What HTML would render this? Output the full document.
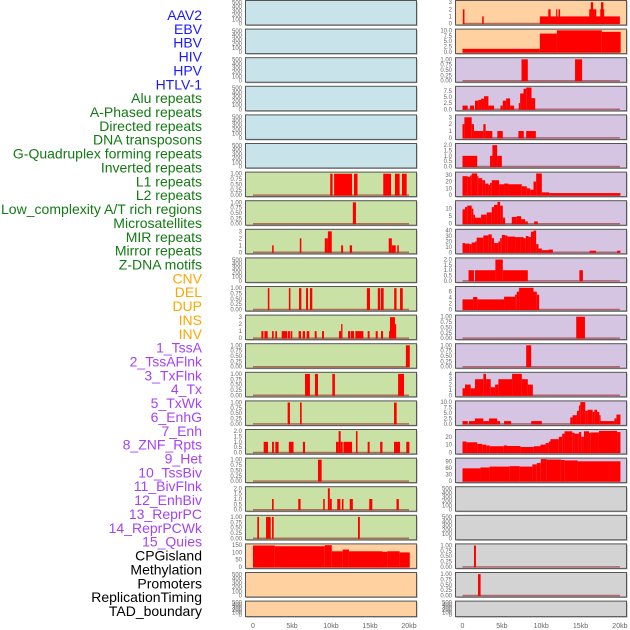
<!DOCTYPE html>
<html><head><meta charset="utf-8"><style>
html,body{margin:0;padding:0;background:#fff;}
svg{display:block;font-family:"Liberation Sans",sans-serif;}
</style></head><body>
<svg id="fig" width="630" height="630" viewBox="0 0 630 630" xmlns="http://www.w3.org/2000/svg">
<g id="labels"></g>
<g id="panels"></g>
<g id="xaxes"></g>
</svg>
<script>
// ---- track labels ----
const labelNames = ["AAV2","EBV","HBV","HIV","HPV","HTLV-1","Alu repeats","A-Phased repeats","Directed repeats","DNA transposons","G-Quadruplex forming repeats","Inverted repeats","L1 repeats","L2 repeats","Low_complexity A/T rich regions","Microsatellites","MIR repeats","Mirror repeats","Z-DNA motifs","CNV","DEL","DUP","INS","INV","1_TssA","2_TssAFlnk","3_TxFlnk","4_Tx","5_TxWk","6_EnhG","7_Enh","8_ZNF_Rpts","9_Het","10_TssBiv","11_BivFlnk","12_EnhBiv","13_ReprPC","14_ReprPCWk","15_Quies","CPGisland","Methylation","Promoters","ReplicationTiming","TAD_boundary"];
const labelGroups = ["v","v","v","v","v","v","r","r","r","r","r","r","r","r","r","r","r","r","r","s","s","s","s","s","c","c","c","c","c","c","c","c","c","c","c","c","c","c","c","o","o","o","o","o"];
const groupColors = {v:"#1a1aff", r:"#137a13", s:"#ffa500", c:"#a443f5", o:"#000000"};

// ---- x axis ----
const xTickKb = [0,5,10,15,20];
const xTickLabels = ["0","5kb","10kb","15kb","20kb"];

// ---- y tick label sets ----
const ticksEmpty = ["0","100","200","300","400","500"];
const ticksFrac = ["0.00","0.25","0.50","0.75","1.00"];
const ticks3 = ["0","1","2","3"];
const ticks2 = ["0.0","0.5","1.0","1.5","2.0"];
const ticks10 = ["0.0","2.5","5.0","7.5","10.0"];
const ticks75 = ["0.0","2.5","5.0","7.5"];
const ticks30 = ["0","10","20","30"];
const ticks10b = ["0","5","10"];
const ticks40 = ["0","10","20","30","40"];
const ticks6 = ["0","2","4","6"];
const ticks4 = ["0","1","2","3","4"];
const ticks20 = ["0","10","20"];
const ticks90 = ["0","30","60","90"];
const ticks150 = ["0","50","100","150"];

// ---- data: [startKb, endKb, value] ----
const L6 = [[9.9,10.2,1],[10.4,12.7,1],[12.95,13.4,1],[16.7,17.7,1],[18.2,18.8,1],[19.1,19.7,1]];
const L7 = [[12.8,13.2,1]];
const L8 = [[2.45,2.65,1],[6.0,6.2,2],[9.2,9.6,2],[9.6,10.1,3],[11.3,11.55,1],[12.4,12.7,1],[17.4,17.8,2],[17.8,18.3,1],[18.5,18.7,1]];
const L10 = [[1.9,2.1,1],[4.6,4.8,1],[5.9,6.2,1],[6.8,7.05,1],[7.3,7.6,1],[14.6,15.0,1],[16.0,16.3,1],[16.4,16.75,1],[18.1,18.4,1],[18.85,19.2,1]];
const L11 = [[1.07,1.33,1],[1.46,1.88,1],[2.44,2.65,1],[2.86,3.08,1],[3.68,4.4,1],[4.49,4.74,1],[4.83,5.04,1],[5.85,6.15,1],[6.37,6.67,1],[6.88,7.22,1],[7.91,8.16,1],[8.85,9.1,1],[11.03,11.3,1],[11.3,11.47,2],[12.18,12.44,1],[12.52,12.95,1],[13.12,14.15,1],[14.7,14.95,1],[15.73,15.99,1],[16.41,16.67,1],[17.44,17.56,1],[17.56,18.2,3],[18.2,18.33,2]];
const L12 = [[19.6,20.1,1]];
const L13 = [[6.67,7.3,1],[7.95,8.33,1],[10.17,10.5,1],[18.6,19.36,1]];
const L14 = [[4.44,4.74,1],[6.03,6.24,1],[18.08,18.42,1]];
const L15 = [[1.37,1.92,1],[2.44,2.68,1],[2.86,3.28,1],[4.6,5.2,1],[6.4,6.67,1],[10.64,10.98,1],[10.98,11.24,2],[11.24,11.5,1],[11.6,12.7,1],[13.2,13.4,2],[14.7,14.95,1],[16.3,16.6,1],[18.08,18.85,1],[19.65,20.05,1]];
const L16 = [[8.33,8.8,1]];
const L17 = [[2.44,2.65,1],[5.8,6.1,1],[9.0,9.2,1],[9.6,9.85,2],[9.85,10.1,1],[10.8,11.2,1],[11.4,11.6,1],[12.4,12.8,1],[14.9,15.3,1],[18.4,18.7,1]];
const L18 = [[0.55,0.77,1],[1.67,2.27,1],[2.44,2.65,1],[13.46,13.7,1]];
const L19 = [[0,2.8,148],[2.8,9.2,143],[9.2,10.1,150],[10.1,11.5,108],[11.5,12.3,120],[12.3,16.6,108],[16.6,17.2,104],[17.2,18.8,108],[18.8,20.1,100]];

const R0 = [[0.05,0.25,2],[2.5,2.7,1],[9.83,20.0,1],[10.9,11.2,2],[11.9,12.0,2],[12.2,12.4,2],[16.1,17.0,2],[16.3,16.6,3],[17.5,18.0,2],[17.6,17.9,3]];
const R1 = [[0,9.83,1.5],[9.83,12.0,8.5],[12.0,17.7,10],[17.7,20.1,9.3]];
const R2 = [[7.5,8.3,1],[14.3,15.2,1]];
const R3 = [[0,0.66,1.5],[0.96,1.46,1.5],[1.59,2.02,3.5],[2.02,2.36,3.8],[2.36,2.74,4.3],[2.74,3.29,5.3],[3.29,4.01,1.5],[4.82,5.12,1.5],[5.12,5.54,3.5],[5.54,6.05,4.4],[6.05,6.56,1.5],[7.15,7.32,2.5],[7.32,7.75,6.4],[7.75,8.09,8.3],[8.09,8.77,8.8],[8.77,9.24,4.5]];
const R4 = [[0,0.24,2],[0.24,1.17,3],[1.17,1.46,2],[1.46,2.65,1],[2.65,2.94,2],[2.94,3.79,1],[4.43,5.12,1],[7.1,7.79,1],[8.09,9.32,1]];
const R5 = [[0,1.87,1],[3.5,3.8,1],[3.8,4.4,2],[4.4,5.0,1]];
const R6 = [[0,0.66,28],[0.66,0.96,27],[0.96,1.17,29],[1.17,1.87,32],[1.87,2.02,28],[2.02,2.5,25],[2.5,2.87,22],[2.87,3.29,17],[3.29,3.5,15],[3.5,3.72,18],[3.72,4.65,22],[4.65,5.28,16],[5.28,5.84,17],[5.84,7.54,16],[7.54,8.17,13],[8.17,8.6,10],[8.6,9.02,8],[9.02,9.36,20],[9.36,10.08,32],[10.08,11.02,4],[11.02,20.07,3]];
const R7 = [[0,0.32,9.5],[0.32,0.6,11],[0.6,1.17,12],[1.17,1.38,10],[1.38,1.59,6],[1.59,2.36,4],[2.36,3.08,6],[3.08,3.72,7.5],[3.72,4.01,11],[4.01,4.44,12.5],[4.44,4.78,14.5],[4.78,5.12,12],[5.12,5.41,4],[6.26,6.9,4.5],[6.9,7.45,5],[7.45,7.96,3],[7.96,8.3,1.5],[9.1,9.57,1.5]];
const R8 = [[0,0.32,17],[0.32,0.92,16],[0.92,1.17,15],[1.17,1.59,18],[1.59,1.8,20],[1.8,2.65,27],[2.65,3.29,31],[3.29,3.72,33],[3.72,4.01,26],[4.01,4.56,17],[4.56,4.78,20],[4.78,5.0,26],[5.0,5.41,32],[5.41,5.7,31],[5.7,6.68,29],[6.68,7.32,28],[7.32,7.75,28],[7.75,8.05,26],[8.05,8.39,30],[8.39,8.69,28],[8.69,9.02,38],[9.02,9.36,40],[9.36,9.66,15],[9.66,10.08,7],[10.08,10.93,4],[10.93,11.48,5],[16.16,16.96,3],[19.64,20.07,3]];
const R9 = [[0.77,1.46,1],[1.59,4.18,1],[4.18,5.12,2],[5.12,8.3,1],[14.85,15.3,1]];
const R10 = [[0,1.34,3.4],[1.34,1.89,4.2],[1.89,5.28,3.4],[5.28,6.68,4.3],[6.68,6.9,5],[6.9,7.19,6],[7.19,9.02,7.3],[9.02,9.44,6],[9.44,9.74,5]];
const R11 = [[14.45,15.56,1]];
const R12 = [[8.09,8.73,1]];
const R13 = [[0,0.32,1.3],[0.32,1.04,2],[1.04,1.59,1.3],[1.59,2.65,3],[2.65,2.99,4],[2.99,3.59,3],[3.59,4.14,1.5],[4.14,4.56,2],[4.56,6.3,3],[6.3,7.54,4],[7.54,8.3,3],[8.3,8.94,2]];
const R14 = [[0,0.66,1.3],[0.83,1.59,1.3],[1.59,2.65,2.5],[2.65,3.38,1.3],[3.38,4.4,2.5],[4.4,4.78,1.3],[5.28,6.18,1.3],[8.73,10.08,1.3],[13.69,13.99,3],[13.99,14.54,4],[14.54,14.8,6],[14.8,14.97,8.5],[14.97,15.6,10],[15.6,15.9,6],[15.9,16.54,6.5],[16.54,16.75,5.5],[16.75,17.09,6.5],[17.09,17.39,5.5],[17.39,17.52,4],[17.52,19.3,1.3],[19.3,19.56,2.5],[19.56,20.07,4.3]];
const R15 = [[0,0.5,14],[0.5,1.87,13],[1.87,2.5,11],[2.5,3.0,10],[3.0,3.46,9],[3.46,5.24,8],[5.24,5.66,9],[5.66,7.36,8.3],[7.36,9.06,7],[9.06,9.91,8],[9.91,10.55,10],[10.55,10.97,12],[10.97,11.18,14],[11.18,12.24,17],[12.24,12.67,20],[12.67,12.97,24],[12.97,13.94,27],[13.94,14.24,25],[14.24,14.79,24],[14.79,15.09,26],[15.09,15.43,20],[15.43,16.07,27],[16.07,16.28,25],[16.28,17.34,25.5],[17.34,19.64,27.5],[19.64,20.07,26]];
const R16 = [[0,2.29,58],[2.29,3.44,62],[3.44,5.99,66],[5.99,7.26,68],[7.26,8.88,66],[8.88,9.44,76],[9.44,9.95,82],[9.95,10.71,100],[10.71,12.5,98],[12.5,13.0,96],[13.0,14.62,94],[14.62,20.07,90]];
const R19 = [[1.46,1.71,1]];
const R20 = [[1.97,2.3,1]];

const BLUE="#c9e3eb", GREEN="#c9e1a5", PEACH="#ffd1a1", PURPLE="#d6c5e2", GRAY="#d3d3d3";
// [column, row, background, yMax, ticks, data]
const panels = [
 ["L",0,BLUE,520,ticksEmpty,null],["L",1,BLUE,520,ticksEmpty,null],["L",2,BLUE,520,ticksEmpty,null],
 ["L",3,BLUE,520,ticksEmpty,null],["L",4,BLUE,520,ticksEmpty,null],["L",5,BLUE,520,ticksEmpty,null],
 ["L",6,GREEN,1.03,ticksFrac,L6],["L",7,GREEN,1.03,ticksFrac,L7],["L",8,GREEN,3.15,ticks3,L8],
 ["L",9,GREEN,520,ticksEmpty,null],["L",10,GREEN,1.03,ticksFrac,L10],["L",11,GREEN,3.15,ticks3,L11],
 ["L",12,GREEN,1.03,ticksFrac,L12],["L",13,GREEN,1.03,ticksFrac,L13],["L",14,GREEN,1.03,ticksFrac,L14],
 ["L",15,GREEN,2.06,ticks2,L15],["L",16,GREEN,1.03,ticksFrac,L16],["L",17,GREEN,2.06,ticks2,L17],
 ["L",18,GREEN,1.03,ticksFrac,L18],["L",19,PEACH,152,ticks150,L19],["L",20,PEACH,520,ticksEmpty,null],
 ["L",21,PEACH,520,ticksEmpty,null],
 ["R",0,PEACH,3.1,ticks3,R0],["R",1,PEACH,10.1,ticks10,R1],["R",2,PURPLE,1.03,ticksFrac,R2],
 ["R",3,PURPLE,8.9,ticks75,R3],["R",4,PURPLE,3.2,ticks3,R4],["R",5,PURPLE,2.06,ticks2,R5],
 ["R",6,PURPLE,32.5,ticks30,R6],["R",7,PURPLE,14.6,ticks10b,R7],["R",8,PURPLE,40.5,ticks40,R8],
 ["R",9,PURPLE,2.06,ticks2,R9],["R",10,PURPLE,7.4,ticks6,R10],["R",11,PURPLE,1.03,ticksFrac,R11],
 ["R",12,PURPLE,1.03,ticksFrac,R12],["R",13,PURPLE,4.1,ticks4,R13],["R",14,PURPLE,10.1,ticks10,R14],
 ["R",15,PURPLE,28,ticks20,R15],["R",16,PURPLE,100,ticks90,R16],["R",17,GRAY,520,ticksEmpty,null],
 ["R",18,GRAY,520,ticksEmpty,null],["R",19,GRAY,1.03,ticksFrac,R19],["R",20,GRAY,1.03,ticksFrac,R20],
 ["R",21,GRAY,520,ticksEmpty,null]
];

const NS="http://www.w3.org/2000/svg";
function mk(tag, attrs, parent){const e=document.createElementNS(NS,tag);for(const k in attrs)e.setAttribute(k,attrs[k]);parent.appendChild(e);return e;}
const colGeom = {L:{x0:245.5,x1:416.5,kb0:253,kbScale:7.8,tickX:242}, R:{x0:455.5,x1:626.5,kb0:462.5,kbScale:7.87,tickX:452}};
function xScale(col,kb){const g=colGeom[col];return g.kb0+kb*g.kbScale;}
function rowTop(r){return 0.5+28.6*r;}
function rowH(r){return r===21?15.5:24.5;}

// labels
const lg=document.getElementById('labels');
labelNames.forEach((n,i)=>{
  const t=mk('text',{x:202,y:(20+13.86*i).toFixed(1),'text-anchor':'end','font-size':'14',fill:groupColors[labelGroups[i]]},lg);
  
  
  if(n.length>28) t.setAttribute('textLength','201');
  t.textContent=n;
});

// panels
const pg=document.getElementById('panels');
panels.forEach(p=>{
  const [col,row,bg,yMax,ticks,data]=p;
  const g=colGeom[col];
  const top=rowTop(row), h=rowH(row), bot=top+h;
  const y0=bot-1.5, y1=top+1;
  const yS=v=>y0-(v/yMax)*(y0-y1);
  const grp=mk('g',{},pg);
  
  
  mk('rect',{x:g.x0+1,y:top+1,width:g.x1-g.x0,height:h,fill:'#aaa'},grp);
  const bgR=mk('rect',{x:g.x0,y:top,width:g.x1-g.x0,height:h,fill:bg,stroke:'#555','stroke-width':1},grp);
  
  
  if(data){
    const bl=mk('line',{x1:xScale(col,0),x2:xScale(col,20),y1:y0,y2:y0,stroke:'rgba(150,20,20,0.55)','stroke-width':1.5},grp);
    
    
    data.forEach(d=>{
      const xa=xScale(col,d[0]), xb=xScale(col,d[1]);
      const r=mk('rect',{x:xa.toFixed(2),y:yS(d[2]).toFixed(2),width:Math.max(1.2,xb-xa).toFixed(2),height:(y0-yS(d[2])+0.5).toFixed(2),fill:'#ff0000'},grp);
      
      
    });
  }
  ticks.forEach(tl=>{
    const v=parseFloat(tl);
    const t=mk('text',{x:g.tickX,y:(yS(v)+2).toFixed(2),'text-anchor':'end','font-size':'6',fill:'#666'},grp);
    
    
    t.textContent=tl;
  });
});

// x axes
const xg=document.getElementById('xaxes');
["L","R"].forEach(col=>{
  xTickKb.forEach((kb,i)=>{
    const t=mk('text',{x:xScale(col,kb).toFixed(1),y:628,'text-anchor':'middle','font-size':'7',fill:'#666'},xg);
    
    
    t.textContent=xTickLabels[i];
  });
});
</script>
</body></html>
